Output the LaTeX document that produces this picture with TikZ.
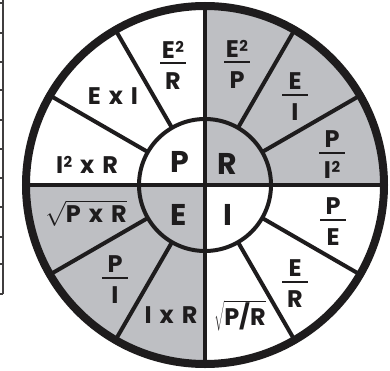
\documentclass[tikz,border=0pt]{standalone}
\usepackage{fontspec}
\setmainfont{Poppins}
\usetikzlibrary{calc}
\definecolor{meucinza}{RGB}{190, 191, 195}
\definecolor{meupreto}{RGB}{30, 28, 29}

% fracao com barra horizontal
\newcommand{\fracao}[2]{#1\\[-21pt]\rule{26pt}{2pt}\\[-2pt]#2}
% expoente 2
\newcommand{\quadr}{\kern0.5pt\raisebox{6pt}{\fontsize{15}{15}\selectfont 2}}
% sinal de vezes
\newcommand{\vezes}{\hspace{8pt}x\hspace{8pt}}

\begin{document}
\begin{tikzpicture}[
    x=1pt,
    y=1pt,
    raio/.style={
        draw=meupreto,
        line width=4pt
    },
    setor/.style={
        text=meupreto,
        inner sep=0pt,
        align=center,
        font=\fontsize{24}{27}\selectfont\bfseries
    },
    letra/.style={
        text=meupreto,
        inner sep=0pt,
        font=\fontsize{30}{34}\selectfont\bfseries
    },
    tabela/.style={
        draw=meupreto!85,
        line width=1.2pt
    }
]

\useasboundingbox (-205,185) rectangle (185,-185);

% ---------------- Quadrantes ----------------

\fill[meucinza] (0,0) -- (0:179) arc[start angle=0, end angle=90, radius=179] -- cycle;
\fill[meucinza] (0,0) -- (180:179) arc[start angle=180, end angle=270, radius=179] -- cycle;

\draw[raio] (90:179) -- (270:179);
\draw[raio] (180:179) -- (0:179);

\draw[raio] (30:66) -- (30:179);
\draw[raio] (60:66) -- (60:179);
\draw[raio] (120:66) -- (120:179);
\draw[raio] (150:66) -- (150:179);
\draw[raio] (210:66) -- (210:179);
\draw[raio] (240:66) -- (240:179);
\draw[raio] (300:66) -- (300:179);
\draw[raio] (330:66) -- (330:179);

\draw[raio] (0,0) circle[radius=66];
\draw[draw=meupreto, line width=8pt] (0,0) circle[radius=179];

% ---------------- Centro ----------------

\node[letra] (p) at (-25,23) {P};
\node[letra] (r) at (22,21) {R};
\node[letra] (e) at (-26,-30) {E};
\node[letra] (i) at (23,-30) {I};

% ---------------- Potencia (P) ----------------

\node[setor] (p1) at (-32,120) {\fracao{E\quadr}{R}};
\node[setor] (p2) at (-92,89) {E\vezes I};
\node[setor] (p3) at (-118,20) {I\quadr\vezes R};

% ---------------- Resistencia (R) ----------------

\node[setor] (r1) at (32,121) {\fracao{E\quadr}{P}};
\node[setor] (r2) at (90,88) {\fracao{E}{I}};
\node[setor] (r3) at (127,30) {\fracao{P}{I\quadr}};

% ---------------- Corrente (I) ----------------

\node[setor] (i1) at (128,-37) {\fracao{P}{E}};
\node[setor] (i2) at (90,-99) {\fracao{E}{R}};
\node[setor] (i3) at (35,-131) {$\sqrt{\mbox{P/R}}$};

% ---------------- Tensao (E) ----------------

\node[setor] (e1) at (-119,-28) {$\sqrt{\mbox{P\vezes R}}$};
\node[setor] (e2) at (-90,-95) {\fracao{P}{I}};
\node[setor] (e3) at (-34,-130) {I\vezes R};

% ---------------- Tabela (borda) ----------------

\draw[tabela] (-202,185) -- (-202,-109);
\draw[tabela] (-205,182) -- (-202,182);
\draw[tabela] (-205,152) -- (-202,152);
\draw[tabela] (-205,123) -- (-202,123);
\draw[tabela] (-205,95) -- (-202,95);
\draw[tabela] (-205,65) -- (-202,65);
\draw[tabela] (-205,36) -- (-202,36);
\draw[tabela] (-205,7) -- (-202,7);
\draw[tabela] (-205,-22) -- (-202,-22);
\draw[tabela] (-205,-52) -- (-202,-52);
\draw[tabela] (-205,-79) -- (-202,-79);
\draw[tabela] (-205,-109) -- (-202,-109);

\end{tikzpicture}
\end{document}
